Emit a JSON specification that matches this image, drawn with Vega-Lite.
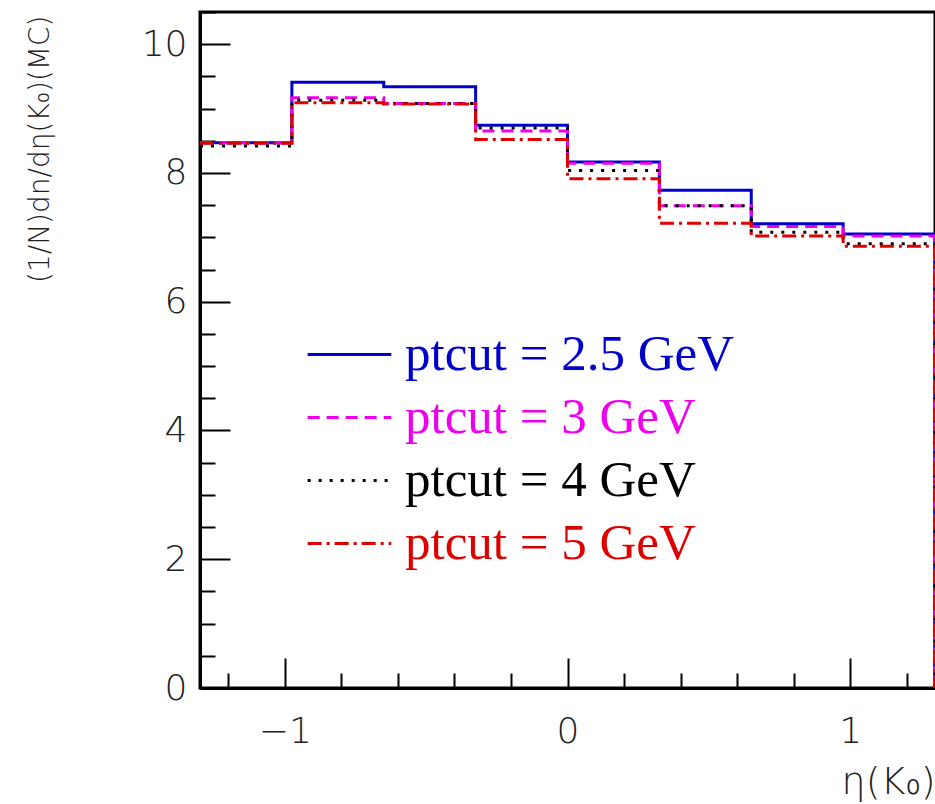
{
  "$schema": "https://vega.github.io/schema/vega-lite/v6.json",
  "autosize": "none",
  "width": 735,
  "height": 676,
  "padding": {"left": 200, "top": 12, "right": 0, "bottom": 116},
  "background": "white",
  "config": {"view": {"stroke": "black", "strokeWidth": 3}},
  "data": {"values": [
    {"ptcut": "ptcut = 2.5 GeV", "i": 1, "eta": -1.3, "v": 8.47},
    {"ptcut": "ptcut = 2.5 GeV", "i": 2, "eta": -0.975, "v": 9.41},
    {"ptcut": "ptcut = 2.5 GeV", "i": 3, "eta": -0.65, "v": 9.34},
    {"ptcut": "ptcut = 2.5 GeV", "i": 4, "eta": -0.325, "v": 8.74},
    {"ptcut": "ptcut = 2.5 GeV", "i": 5, "eta": 0, "v": 8.17},
    {"ptcut": "ptcut = 2.5 GeV", "i": 6, "eta": 0.325, "v": 7.73},
    {"ptcut": "ptcut = 2.5 GeV", "i": 7, "eta": 0.65, "v": 7.21},
    {"ptcut": "ptcut = 2.5 GeV", "i": 8, "eta": 0.975, "v": 7.05},
    {"ptcut": "ptcut = 2.5 GeV", "i": 9, "eta": 1.3, "v": 7.05},
    {"ptcut": "ptcut = 2.5 GeV", "i": 10, "eta": 1.3, "v": 0},
    {"ptcut": "ptcut = 3 GeV", "i": 1, "eta": -1.3, "v": 8.47},
    {"ptcut": "ptcut = 3 GeV", "i": 2, "eta": -0.975, "v": 9.17},
    {"ptcut": "ptcut = 3 GeV", "i": 3, "eta": -0.65, "v": 9.08},
    {"ptcut": "ptcut = 3 GeV", "i": 4, "eta": -0.325, "v": 8.65},
    {"ptcut": "ptcut = 3 GeV", "i": 5, "eta": 0, "v": 8.15},
    {"ptcut": "ptcut = 3 GeV", "i": 6, "eta": 0.325, "v": 7.49},
    {"ptcut": "ptcut = 3 GeV", "i": 7, "eta": 0.65, "v": 7.17},
    {"ptcut": "ptcut = 3 GeV", "i": 8, "eta": 0.975, "v": 7.02},
    {"ptcut": "ptcut = 3 GeV", "i": 9, "eta": 1.3, "v": 7.02},
    {"ptcut": "ptcut = 3 GeV", "i": 10, "eta": 1.3, "v": 0},
    {"ptcut": "ptcut = 4 GeV", "i": 1, "eta": -1.3, "v": 8.42},
    {"ptcut": "ptcut = 4 GeV", "i": 2, "eta": -0.975, "v": 9.13},
    {"ptcut": "ptcut = 4 GeV", "i": 3, "eta": -0.65, "v": 9.08},
    {"ptcut": "ptcut = 4 GeV", "i": 4, "eta": -0.325, "v": 8.70},
    {"ptcut": "ptcut = 4 GeV", "i": 5, "eta": 0, "v": 8.04},
    {"ptcut": "ptcut = 4 GeV", "i": 6, "eta": 0.325, "v": 7.49},
    {"ptcut": "ptcut = 4 GeV", "i": 7, "eta": 0.65, "v": 7.08},
    {"ptcut": "ptcut = 4 GeV", "i": 8, "eta": 0.975, "v": 6.90},
    {"ptcut": "ptcut = 4 GeV", "i": 9, "eta": 1.3, "v": 6.90},
    {"ptcut": "ptcut = 4 GeV", "i": 10, "eta": 1.3, "v": 0},
    {"ptcut": "ptcut = 5 GeV", "i": 1, "eta": -1.3, "v": 8.46},
    {"ptcut": "ptcut = 5 GeV", "i": 2, "eta": -0.975, "v": 9.09},
    {"ptcut": "ptcut = 5 GeV", "i": 3, "eta": -0.65, "v": 9.07},
    {"ptcut": "ptcut = 5 GeV", "i": 4, "eta": -0.325, "v": 8.52},
    {"ptcut": "ptcut = 5 GeV", "i": 5, "eta": 0, "v": 7.91},
    {"ptcut": "ptcut = 5 GeV", "i": 6, "eta": 0.325, "v": 7.22},
    {"ptcut": "ptcut = 5 GeV", "i": 7, "eta": 0.65, "v": 7.02},
    {"ptcut": "ptcut = 5 GeV", "i": 8, "eta": 0.975, "v": 6.86},
    {"ptcut": "ptcut = 5 GeV", "i": 9, "eta": 1.3, "v": 6.86},
    {"ptcut": "ptcut = 5 GeV", "i": 10, "eta": 1.3, "v": 0}
  ]},
  "layer": [
    {
      "mark": {"type": "line", "interpolate": "step-after", "strokeWidth": 3, "clip": true},
      "encoding": {
        "x": {
          "field": "eta", "type": "quantitative",
          "scale": {"domain": [-1.3, 1.3], "nice": false, "zero": false},
          "axis": {
            "orient": "bottom", "values": [-1, 0, 1], "format": "d", "grid": false,
            "tickSize": -30, "tickWidth": 2, "tickColor": "black",
            "domainColor": "black", "domainWidth": 3,
            "labelFont": "DejaVu Sans", "labelFontWeight": 200, "labelFontSize": 36, "labelColor": "#222",
            "labelPadding": 56,
            "title": "η(K₀)", "titleFont": "DejaVu Sans", "titleFontWeight": 200, "titleFontSize": 38, "titleColor": "#222",
            "titleX": 735, "titleY": 94, "titleAlign": "right", "titleBaseline": "middle"
          }
        },
        "y": {
          "field": "v", "type": "quantitative",
          "scale": {"domain": [0, 10.5], "nice": false},
          "axis": {
            "orient": "left", "values": [0, 2, 4, 6, 8, 10], "grid": false,
            "tickSize": -30, "tickWidth": 2, "tickColor": "black",
            "domainColor": "black", "domainWidth": 3,
            "labelFont": "DejaVu Sans", "labelFontWeight": 200, "labelFontSize": 36, "labelColor": "#222",
            "labelPadding": 43,
            "title": "(1/N)dn/dη(K₀)(MC)", "titleFont": "DejaVu Sans", "titleFontWeight": 200, "titleFontSize": 28, "titleColor": "#222",
            "titleX": -160, "titleY": 3, "titleAlign": "right", "titleBaseline": "middle", "titleAngle": 270
          }
        },
        "color": {
          "field": "ptcut", "type": "nominal",
          "scale": {"domain": ["ptcut = 2.5 GeV", "ptcut = 3 GeV", "ptcut = 4 GeV", "ptcut = 5 GeV"], "range": ["#0000cc", "#ee00ee", "#000000", "#dd0000"]},
          "legend": {
            "title": null, "orient": "none", "legendX": 124, "legendY": 317,
            "symbolType": "M-2,0H2", "symbolSize": 1750, "symbolStrokeWidth": 3,
            "labelFont": "Liberation Serif", "labelFontSize": 51, "labelOffset": 30, "labelLimit": 0,
            "rowPadding": 11,
            "labelColor": {"expr": "datum.label == 'ptcut = 2.5 GeV' ? '#0000cc' : datum.label == 'ptcut = 3 GeV' ? '#ee00ee' : datum.label == 'ptcut = 4 GeV' ? '#000000' : '#dd0000'"}
          }
        },
        "strokeDash": {
          "field": "ptcut", "type": "nominal",
          "scale": {"domain": ["ptcut = 2.5 GeV", "ptcut = 3 GeV", "ptcut = 4 GeV", "ptcut = 5 GeV"], "range": [[1, 0], [12, 7], [3, 8], [14, 5, 3, 5]]}
        },
        "order": {"field": "i", "type": "quantitative"}
      }
    },
    {
      "mark": {"type": "point", "opacity": 0},
      "encoding": {
        "x": {
          "field": "eta", "type": "quantitative",
          "axis": {
            "orient": "bottom", "values": [-1.2, -0.8, -0.6, -0.4, -0.2, 0.2, 0.4, 0.6, 0.8, 1.2],
            "grid": false, "labels": false, "domain": false, "title": null,
            "tickSize": -15, "tickWidth": 2, "tickColor": "black"
          }
        },
        "y": {
          "field": "v", "type": "quantitative",
          "axis": {
            "orient": "left", "values": [0.5, 1, 1.5, 2.5, 3, 3.5, 4.5, 5, 5.5, 6.5, 7, 7.5, 8.5, 9, 9.5, 10.5],
            "grid": false, "labels": false, "domain": false, "title": null,
            "tickSize": -15, "tickWidth": 2, "tickColor": "black"
          }
        }
      }
    }
  ],
  "resolve": {"axis": {"x": "independent", "y": "independent"}}
}
